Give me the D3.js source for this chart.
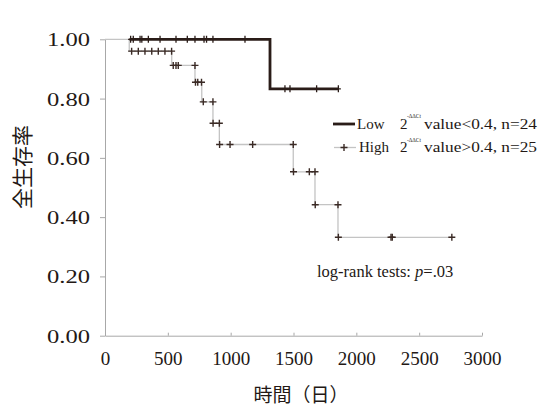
<!DOCTYPE html>
<html>
<head>
<meta charset="utf-8">
<script src="https://cdn.jsdelivr.net/npm/d3@7"></script>
<style>
  body { margin: 0; background: #fff; }
  svg text { font-family: "Liberation Serif", "Times New Roman", serif; fill: #231815; }
</style>
</head>
<body>
<div id="chart"></div>
<script>
var width = 542,
    height = 410;

// Low group (2^-ddCt < 0.4): step points and censor marks
var lowTime = [195, 1313, 1857];
var lowSurv = [1.00, 0.833, 0.833];
var lowCensorTime = [204, 225, 279, 293, 345, 438, 565, 655, 716, 788, 808, 859, 1114, 1432, 1472, 1684, 1857];
var lowCensorSurv = [1, 1, 1, 1, 1, 1, 1, 1, 1, 1, 1, 1, 1, 0.833, 0.833, 0.833, 0.833];

// High group (2^-ddCt > 0.4)
var highTime = [0, 193, 531, 716, 770, 859, 910, 1498, 1671, 1854, 2760];
var highSurv = [1.00, 0.96, 0.912, 0.855, 0.789, 0.717, 0.645, 0.553, 0.442, 0.332, 0.332];
var highCensorTime = [212, 265, 318, 372, 424, 477, 530,
                      543, 565, 583, 716,
                      720, 738, 768,
                      782, 859,
                      860, 910,
                      912, 995, 1175, 1498,
                      1500, 1626, 1671,
                      1673, 1854,
                      1857, 2276, 2286, 2760];
var highCensorSurv = [0.96, 0.96, 0.96, 0.96, 0.96, 0.96, 0.96,
                      0.912, 0.912, 0.912, 0.912,
                      0.855, 0.855, 0.855,
                      0.789, 0.789,
                      0.717, 0.717,
                      0.645, 0.645, 0.645, 0.645,
                      0.553, 0.553, 0.553,
                      0.442, 0.442,
                      0.332, 0.332, 0.332, 0.332];

var xTicks = [0, 500, 1000, 1500, 2000, 2500, 3000];
var yTicks = [0, 0.2, 0.4, 0.6, 0.8, 1.0];

var svg = d3.select("#chart").append("svg")
    .attr("width", width)
    .attr("height", height);

var x = d3.scaleLinear().domain([0, 3000]).range([105, 482]);
var y = d3.scaleLinear().domain([0, 1]).range([335.7, 39.3]);

// axes
var xAxis = svg.append("g")
    .attr("transform", "translate(0," + y(0) + ")")
    .call(d3.axisBottom(x).tickValues(xTicks).tickSize(-3).tickSizeOuter(0).tickPadding(16).tickFormat(d3.format("d")));

var yAxis = svg.append("g")
    .attr("transform", "translate(" + x(0) + ",0)")
    .call(d3.axisLeft(y).tickValues(yTicks).tickSize(5).tickSizeOuter(0).tickPadding(10).tickFormat(d3.format(".2f")));

[xAxis, yAxis].forEach(function(a) {
  a.select(".domain").attr("stroke", "#a8a8a8");
  a.selectAll(".tick line").attr("stroke", "#a8a8a8");
});
xAxis.selectAll("text").style("font-size", "19px").attr("fill", "#231815");
yAxis.selectAll("text").style("font-size", "18px").attr("fill", "#231815")
    .attr("dy", "0.36em")
    .attr("textLength", 43).attr("lengthAdjust", "spacingAndGlyphs");

// curves
var line = d3.line()
    .x(function(d) { return x(d[0]); })
    .y(function(d) { return y(d[1]); })
    .curve(d3.curveStepAfter);

svg.append("path")
    .datum(d3.zip(highTime, highSurv))
    .attr("fill", "none")
    .attr("stroke", "#c4c4c4")
    .attr("stroke-width", 1.3)
    .attr("d", line);

svg.append("path")
    .datum(d3.zip(lowTime, lowSurv))
    .attr("fill", "none")
    .attr("stroke", "#2a1c18")
    .attr("stroke-width", 2.8)
    .attr("d", line);

// censor marks
svg.append("g").selectAll("path")
    .data(d3.zip(highCensorTime, highCensorSurv))
  .enter().append("path")
    .attr("d", function(d) {
      var cx = x(d[0]), cy = y(d[1]);
      return "M" + (cx - 3.5) + "," + cy + "H" + (cx + 3.5) + "M" + cx + "," + (cy - 3.5) + "V" + (cy + 3.5);
    })
    .attr("stroke", "#3a2a25")
    .attr("stroke-width", 1.4);

svg.append("g").selectAll("path")
    .data(d3.zip(lowCensorTime, lowCensorSurv))
  .enter().append("path")
    .attr("d", function(d) {
      var cx = x(d[0]), cy = y(d[1]);
      return "M" + (cx - 2.5) + "," + cy + "H" + (cx + 2.5) + "M" + cx + "," + (cy - 3.5) + "V" + (cy + 3.5);
    })
    .attr("stroke", "#2a1c18")
    .attr("stroke-width", 1.3);

// axis titles
svg.append("text")
    .attr("transform", "translate(30,167) rotate(-90)")
    .attr("text-anchor", "middle")
    .style("font-family", "'Noto Sans CJK JP', sans-serif")
    .style("font-size", "21px")
    .attr("fill", "#3a2a25")
    .text("全生存率");

svg.append("text")
    .attr("x", 301)
    .attr("y", 402)
    .attr("text-anchor", "middle")
    .style("font-family", "'Noto Sans CJK JP', sans-serif")
    .style("font-size", "19px")
    .attr("fill", "#3a2a25")
    .text("時間（日）");

// legend
var legendLabels = ["Low", "High"];
var legendText = ["value<0.4, n=24", "value>0.4, n=25"];
var legend = svg.append("g");
legendLabels.forEach(function(name, i) {
  var ly = 124 + i * 23.5;
  if (i === 0) {
    legend.append("line").attr("x1", 333).attr("x2", 355).attr("y1", ly).attr("y2", ly)
        .attr("stroke", "#2a1c18").attr("stroke-width", 2.8);
  } else {
    legend.append("line").attr("x1", 334).attr("x2", 356).attr("y1", ly).attr("y2", ly)
        .attr("stroke", "#c4c4c4").attr("stroke-width", 1.3);
    legend.append("path").attr("d", "M340.5," + ly + "H347.5M344," + (ly - 3.5) + "V" + (ly + 3.5))
        .attr("stroke", "#3a2a25").attr("stroke-width", 1.4);
  }
  legend.append("text").attr("x", i === 0 ? 357 : 359).attr("y", ly + 4.5)
      .style("font-size", "15px").text(name);
  legend.append("text").attr("x", 400).attr("y", ly + 4.5)
      .style("font-size", "15px").text("2");
  legend.append("text").attr("x", 407).attr("y", ly - 6)
      .style("font-size", "7px")
      .attr("textLength", 14).attr("lengthAdjust", "spacingAndGlyphs")
      .text("-ΔΔCt");
  legend.append("text").attr("x", 424).attr("y", ly + 4.5)
      .style("font-size", "15px")
      .attr("textLength", 113).attr("lengthAdjust", "spacingAndGlyphs")
      .text(legendText[i]);
});

// log-rank annotation
var lr = svg.append("text").attr("x", 317).attr("y", 277).style("font-size", "16.5px");
lr.append("tspan").text("log-rank tests: ");
lr.append("tspan").style("font-style", "italic").text("p");
lr.append("tspan").text("=.03");
</script>
</body>
</html>
